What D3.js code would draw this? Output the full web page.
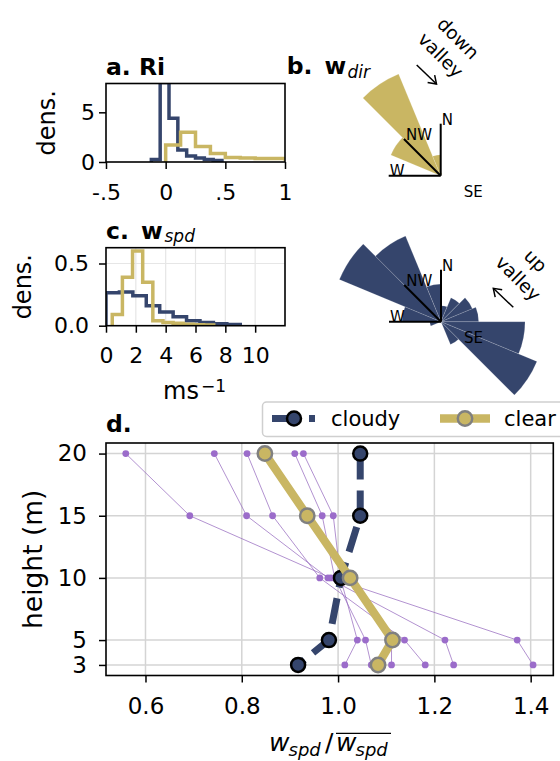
<!DOCTYPE html>
<html>
<head>
<meta charset="utf-8">
<script src="https://cdn.jsdelivr.net/npm/d3@7"></script>
<style>
  body { margin: 0; background: #fff; }
  svg text { font-family: "DejaVu Sans", sans-serif; }
</style>
</head>
<body>
<svg id="chart" width="560" height="761"></svg>
<script>
const cloudyColor = "#35456c";
const clearColor = "#c9b663";
const profColor = "#9467bd";

// a. Richardson number histograms (density)
const riEdgesCloudy = [-0.12, -0.046, 0.028, 0.102, 0.176, 0.25, 0.324, 0.398, 0.472];
const riCloudy = [0.25, 8.0, 4.4, 1.2, 0.6, 0.4, 0.25, 0.15];
const riEdgesClear = [0, 0.125, 0.25, 0.375, 0.5, 0.625, 0.75, 0.875, 1.0, 1.125];
const riClear = [1.7, 3.0, 1.55, 0.85, 0.45, 0.4, 0.35, 0.35, 0.3];
const riTicks = [-0.5, 0, 0.5, 1];
const riTickLabels = ["-.5", "0", ".5", "1"];

// c. wind speed histograms (density)
const spdEdgesCloudy = [0, 0.9, 1.8, 2.7, 3.6, 4.5, 5.4, 6.3, 7.2, 8.1, 9.0];
const spdCloudy = [0.265, 0.27, 0.24, 0.16, 0.11, 0.072, 0.04, 0.025, 0.015, 0.01];
const spdEdgesClear = [0.42, 1.10, 1.78, 2.46, 3.14, 3.82, 4.50, 5.18, 5.86, 6.54, 7.22];
const spdClear = [0.09, 0.39, 0.60, 0.35, 0.04, 0.025, 0.02, 0.012, 0.008, 0.005];

// b./c. wind direction roses, % per 22.5 deg sector starting at N
const dirStarts = d3.range(16).map(i => i * 22.5);
const roseClear = [1.6, 0, 0, 0, 0, 0, 0, 0, 0, 0, 0, 0, 0, 28.7, 58.5, 11.2];
const roseCloudy = [2.6, 4.2, 5.5, 6.1, 13.6, 16.8, 4.0, 0, 0, 0, 0, 1.8, 6.3, 17.8, 15.0, 6.1];

// d. normalised wind speed profiles
const heights = [20, 15, 10, 5, 3];
const profCloudy = [1.046, 1.046, 1.006, 0.981, 0.917];
const profClear = [0.848, 0.936, 1.025, 1.113, 1.083];
const profDays = [
  [0.559, 0.692, 0.985, 1.372, 1.405],
  [0.743, 0.810, 0.979, 1.222, 1.240],
  [0.811, 0.864, 0.962, 1.138, 1.181],
  [0.910, 0.967, 0.993, 1.057, 1.069],
  [0.928, 0.990, 1.005, 1.040, 1.014],
  [0.850, 0.935, 1.015, 1.111, 1.111]
];
const profXTicks = [0.6, 0.8, 1.0, 1.2, 1.4];
const profYTicks = [3, 5, 10, 15, 20];

const svg = d3.select("#chart");

function stepPath(edges, vals, x, y) {
  const pts = [[edges[0], 0]];
  vals.forEach((v, i) => { pts.push([edges[i], v]); pts.push([edges[i + 1], v]); });
  pts.push([edges[edges.length - 1], 0]);
  return d3.line().x(d => x(d[0])).y(d => y(d[1]))(pts);
}

function styleAxis(g, size) {
  g.attr("font-family", "DejaVu Sans").attr("font-size", size);
  g.select(".domain").remove();
  g.selectAll(".tick line").attr("stroke", "#000").attr("stroke-width", 1.5);
  g.selectAll(".tick text").attr("fill", "#000");
}

function frame(box) {
  svg.append("rect")
    .attr("x", box.x0).attr("y", box.y0)
    .attr("width", box.x1 - box.x0).attr("height", box.y1 - box.y0)
    .attr("fill", "none").attr("stroke", "#000").attr("stroke-width", 1.6);
}

function clipFor(id, box) {
  svg.append("clipPath").attr("id", id).append("rect")
    .attr("x", box.x0).attr("y", box.y0)
    .attr("width", box.x1 - box.x0).attr("height", box.y1 - box.y0);
  return "url(#" + id + ")";
}

// ---------- panel a ----------
const boxA = {x0: 106, x1: 285, y0: 83.5, y1: 162};
const xA = d3.scaleLinear().domain([-0.5, 1]).range([boxA.x0, boxA.x1]);
const yA = d3.scaleLinear().domain([0, 7.9]).range([boxA.y1, boxA.y0]);
const clipA = clipFor("clipA", boxA);
svg.append("path").attr("d", stepPath(riEdgesCloudy, riCloudy, xA, yA))
  .attr("fill", "none").attr("stroke", cloudyColor).attr("stroke-width", 3.5).attr("clip-path", clipA);
svg.append("path").attr("d", stepPath(riEdgesClear, riClear, xA, yA))
  .attr("fill", "none").attr("stroke", clearColor).attr("stroke-width", 3.5).attr("clip-path", clipA);
frame(boxA);
svg.append("g").attr("transform", `translate(0,${boxA.y1})`)
  .call(d3.axisBottom(xA).tickValues(riTicks).tickFormat((d, i) => riTickLabels[i]).tickSize(7).tickPadding(15))
  .call(g => styleAxis(g, 22));
svg.append("g").attr("transform", `translate(${boxA.x0},0)`)
  .call(d3.axisLeft(yA).tickValues([0, 5]).tickSize(7).tickPadding(4))
  .call(g => styleAxis(g, 22));
svg.append("text").attr("transform", `translate(55,${(boxA.y0 + boxA.y1) / 2}) rotate(-90)`)
  .attr("text-anchor", "middle").attr("font-size", 24).text("dens.");
svg.append("text").attr("x", 106).attr("y", 75).attr("font-size", 23.5).attr("font-weight", "bold").text("a. Ri");

// ---------- panel c (histogram) ----------
const boxC = {x0: 106, x1: 285, y0: 247.7, y1: 325.7};
const xC = d3.scaleLinear().domain([0, 12]).range([boxC.x0, boxC.x1]);
const yC = d3.scaleLinear().domain([0, 0.627]).range([boxC.y1, boxC.y0]);
const clipC = clipFor("clipC", boxC);
const gridC = svg.append("g").attr("stroke", "#e6e6e6").attr("stroke-width", 1.2);
[2, 4, 6, 8, 10].forEach(t => gridC.append("line").attr("x1", xC(t)).attr("x2", xC(t)).attr("y1", boxC.y0).attr("y2", boxC.y1));
gridC.append("line").attr("x1", boxC.x0).attr("x2", boxC.x1).attr("y1", yC(0.5)).attr("y2", yC(0.5));
svg.append("path").attr("d", stepPath(spdEdgesCloudy, spdCloudy, xC, yC))
  .attr("fill", "none").attr("stroke", cloudyColor).attr("stroke-width", 3.5).attr("clip-path", clipC);
svg.append("path").attr("d", stepPath(spdEdgesClear, spdClear, xC, yC))
  .attr("fill", "none").attr("stroke", clearColor).attr("stroke-width", 3.5).attr("clip-path", clipC);
frame(boxC);
svg.append("g").attr("transform", `translate(0,${boxC.y1})`)
  .call(d3.axisBottom(xC).tickValues([0, 2, 4, 6, 8, 10]).tickFormat(d3.format("d")).tickSize(7).tickPadding(15))
  .call(g => styleAxis(g, 22));
svg.append("g").attr("transform", `translate(${boxC.x0},0)`)
  .call(d3.axisLeft(yC).tickValues([0, 0.5]).tickFormat(d3.format(".1f")).tickSize(7).tickPadding(10))
  .call(g => styleAxis(g, 22));
svg.append("text").attr("transform", `translate(31,${(boxC.y0 + boxC.y1) / 2}) rotate(-90)`)
  .attr("text-anchor", "middle").attr("font-size", 24).text("dens.");
const msLabel = svg.append("text").attr("y", 399).attr("font-size", 24);
msLabel.append("tspan").attr("x", 163).text("ms");
msLabel.append("tspan").attr("x", 201).attr("y", 392).attr("font-size", 17).text("\u22121");
const titleC = svg.append("text").attr("y", 239.3).attr("font-size", 23.5);
titleC.append("tspan").attr("x", 106).attr("font-weight", "bold").text("c.");
titleC.append("tspan").attr("x", 141).attr("font-weight", "bold").text("w");
titleC.append("tspan").attr("x", 164.5).attr("y", 242).attr("font-size", 17).attr("font-style", "italic").text("spd");

// ---------- roses ----------
function rose(cx, cy, vals, color) {
  const r = d3.scaleLinear().domain([0, d3.max(vals)]).range([0, 110]);
  const rad = a => a * Math.PI / 180;
  const arc = d3.arc().innerRadius(0)
    .outerRadius(d => r(d.v))
    .startAngle(d => rad(d.a)).endAngle(d => rad(d.a + 22.5));
  const g = svg.append("g").attr("transform", `translate(${cx},${cy})`);
  g.selectAll("path").data(vals.map((v, i) => ({v, a: dirStarts[i]})).filter(d => d.v > 0))
    .join("path").attr("d", arc).attr("fill", color)
    .attr("stroke", "#fff").attr("stroke-opacity", 0.25).attr("stroke-width", 0.6);
  const len = 52;
  [["N", 0, 1, 1], ["NW", 315, 2, 1], ["W", 270, 1, 0]].forEach(([lab, a, dx, dy]) => {
    const ex = len * Math.sin(rad(a)), ey = -len * Math.cos(rad(a));
    g.append("line").attr("x1", 0).attr("y1", 0).attr("x2", ex).attr("y2", ey)
      .attr("stroke", "#000").attr("stroke-width", 2);
    g.append("text").attr("x", ex + dx).attr("y", ey + dy).attr("font-size", 15).text(lab);
  });
  g.append("text").attr("x", 23).attr("y", 21.5).attr("font-size", 15).text("SE");
}

function arrow(x1, y1, x2, y2) {
  const ang = Math.atan2(y1 - y2, x1 - x2), hl = 9, ha = 0.6;
  svg.append("line").attr("x1", x1).attr("y1", y1).attr("x2", x2).attr("y2", y2)
    .attr("stroke", "#000").attr("stroke-width", 1.5);
  svg.append("polyline")
    .attr("points", [[x2 + hl * Math.cos(ang + ha), y2 + hl * Math.sin(ang + ha)], [x2, y2],
      [x2 + hl * Math.cos(ang - ha), y2 + hl * Math.sin(ang - ha)]].map(p => p.join(",")).join(" "))
    .attr("fill", "none").attr("stroke", "#000").attr("stroke-width", 1.5);
}

function rotLabel(lines) {
  lines.forEach(([t, x, y]) => {
    svg.append("text").attr("transform", `translate(${x},${y}) rotate(45)`)
      .attr("text-anchor", "middle").attr("dominant-baseline", "central")
      .attr("font-size", 18.5).text(t);
  });
}

rose(440.7, 175.7, roseClear, clearColor);
rose(441, 321.7, roseCloudy, cloudyColor);
rotLabel([["down", 458.3, 38.3], ["valley", 440.7, 55]]);
rotLabel([["up", 535.7, 260.7], ["valley", 518.3, 278.3]]);
arrow(416.7, 65, 436.5, 84);
arrow(513.3, 307.3, 493.3, 288.3);

const titleB = svg.append("text").attr("y", 74).attr("font-size", 23.5);
titleB.append("tspan").attr("x", 286.7).attr("font-weight", "bold").text("b.");
titleB.append("tspan").attr("x", 324.5).attr("font-weight", "bold").text("w");
titleB.append("tspan").attr("x", 347.5).attr("y", 78.3).attr("font-size", 17).attr("font-style", "italic").text("dir");

// ---------- panel d ----------
const boxD = {x0: 106, x1: 553.3, y0: 443, y1: 675.5};
const xD = d3.scaleLinear().domain([0.518, 1.447]).range([boxD.x0, boxD.x1]);
const yD = d3.scaleLinear().domain([2.15, 20.85]).range([boxD.y1, boxD.y0]);
const gridD = svg.append("g").attr("stroke", "#d4d4d4").attr("stroke-width", 1.5);
profXTicks.forEach(t => gridD.append("line").attr("x1", xD(t)).attr("x2", xD(t)).attr("y1", boxD.y0).attr("y2", boxD.y1));
profYTicks.forEach(t => gridD.append("line").attr("x1", boxD.x0).attr("x2", boxD.x1).attr("y1", yD(t)).attr("y2", yD(t)));

const profLine = d3.line().x(d => xD(d[0])).y(d => yD(d[1]));
profDays.forEach(day => {
  const pts = day.map((v, i) => [v, heights[i]]);
  svg.append("path").attr("d", profLine(pts)).attr("fill", "none")
    .attr("stroke", profColor).attr("stroke-opacity", 0.8).attr("stroke-width", 0.9);
  svg.append("g").selectAll("circle").data(pts).join("circle")
    .attr("cx", d => xD(d[0])).attr("cy", d => yD(d[1])).attr("r", 3.4).attr("fill", "#9b6cca");
});

const cloudyPts = profCloudy.map((v, i) => [v, heights[i]]);
svg.append("path").attr("d", profLine(cloudyPts)).attr("fill", "none")
  .attr("stroke", cloudyColor).attr("stroke-width", 7).attr("stroke-dasharray", "26,11");
svg.append("g").selectAll("circle").data(cloudyPts).join("circle")
  .attr("cx", d => xD(d[0])).attr("cy", d => yD(d[1])).attr("r", 7)
  .attr("fill", cloudyColor).attr("stroke", "#000").attr("stroke-width", 2.5);

const clearPts = profClear.map((v, i) => [v, heights[i]]);
svg.append("path").attr("d", profLine(clearPts)).attr("fill", "none")
  .attr("stroke", clearColor).attr("stroke-width", 8.3).attr("stroke-linejoin", "round");
svg.append("g").selectAll("circle").data(clearPts).join("circle")
  .attr("cx", d => xD(d[0])).attr("cy", d => yD(d[1])).attr("r", 7.2)
  .attr("fill", clearColor).attr("stroke", "#808080").attr("stroke-width", 2.5);

frame(boxD);
svg.append("g").attr("transform", `translate(0,${boxD.y1})`)
  .call(d3.axisBottom(xD).tickValues(profXTicks).tickFormat(d3.format(".1f")).tickSize(7).tickPadding(15))
  .call(g => styleAxis(g, 23));
svg.append("g").attr("transform", `translate(${boxD.x0},0)`)
  .call(d3.axisLeft(yD).tickValues(profYTicks).tickSize(7).tickPadding(12))
  .call(g => styleAxis(g, 23));
svg.append("text").attr("transform", `translate(41.7,${(boxD.y0 + boxD.y1) / 2}) rotate(-90)`)
  .attr("text-anchor", "middle").attr("font-size", 26.5).text("height (m)");
svg.append("text").attr("x", 106).attr("y", 431.7).attr("font-size", 23.5).attr("font-weight", "bold").text("d.");

// x label: w_spd / overline(w_spd)
const xl = svg.append("text").attr("y", 751).attr("font-size", 25).attr("font-style", "italic");
xl.append("tspan").attr("x", 269).text("w");
xl.append("tspan").attr("x", 288.5).attr("y", 756).attr("font-size", 18).text("spd");
xl.append("tspan").attr("x", 325).attr("y", 751).attr("font-style", "normal").text("/");
xl.append("tspan").attr("x", 336).text("w");
xl.append("tspan").attr("x", 355.5).attr("y", 756).attr("font-size", 18).text("spd");
svg.append("line").attr("x1", 336).attr("x2", 391).attr("y1", 733.3).attr("y2", 733.3)
  .attr("stroke", "#000").attr("stroke-width", 1.3);

// legend
const lg = svg.append("g");
lg.append("rect").attr("x", 262.5).attr("y", 402).attr("width", 320).attr("height", 34.5).attr("rx", 4)
  .attr("fill", "#fff").attr("fill-opacity", 0.8).attr("stroke", "#cfcfcf").attr("stroke-width", 1.5);
lg.append("line").attr("x1", 272).attr("x2", 315).attr("y1", 418.5).attr("y2", 418.5)
  .attr("stroke", cloudyColor).attr("stroke-width", 7).attr("stroke-dasharray", "26,11");
lg.append("circle").attr("cx", 294).attr("cy", 418.5).attr("r", 7)
  .attr("fill", cloudyColor).attr("stroke", "#000").attr("stroke-width", 2.5);
lg.append("text").attr("x", 331).attr("y", 426).attr("font-size", 21).text("cloudy");
lg.append("line").attr("x1", 440).attr("x2", 490).attr("y1", 418.5).attr("y2", 418.5)
  .attr("stroke", clearColor).attr("stroke-width", 8.3);
lg.append("circle").attr("cx", 465).attr("cy", 418.5).attr("r", 7.2)
  .attr("fill", clearColor).attr("stroke", "#808080").attr("stroke-width", 2.5);
lg.append("text").attr("x", 504).attr("y", 426).attr("font-size", 21).text("clear");
</script>
</body>
</html>
